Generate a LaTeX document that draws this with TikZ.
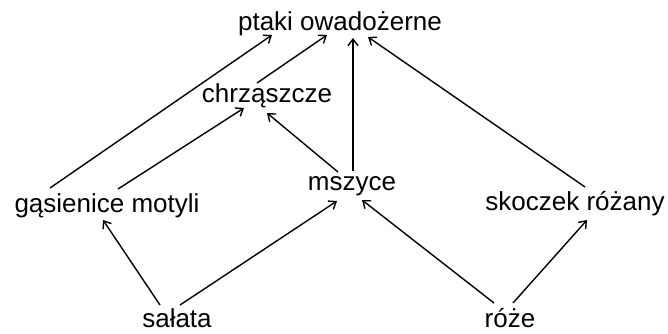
\documentclass[tikz,border=0pt]{standalone}
\usepackage{fontspec}
\setmainfont{Liberation Sans}
\usetikzlibrary{arrows.meta}
\begin{document}
\begin{tikzpicture}[x=1pt,y=-1pt,
  lbl/.style={anchor=base,inner sep=0pt,font=\fontsize{26}{30}\selectfont},
  arr/.style={draw,line width=1.4pt,-{Straight Barb[length=6.5pt,width=10pt,line width=1.4pt]}}]
\useasboundingbox (0,0) rectangle (668,333);
\node[lbl] (P) at (340,30) {ptaki owadożerne};
\node[lbl] (C) at (267,102) {chrząszcze};
\node[lbl] (M) at (352,190) {mszyce};
\node[lbl] (G) at (107,212) {gąsienice motyli};
\node[lbl] (S) at (575,210) {skoczek różany};
\node[lbl] (Sa) at (177,327) {sałata};
\node[lbl] (R) at (510,327) {róże};
\draw[arr] ([shift={(-57,-24)}]G.base) -- ([shift={(-68,5)}]P.base);
\draw[arr] ([shift={(11,-23)}]G.base) -- ([shift={(-23,6)}]C.base);
\draw[arr] ([shift={(-10,-19)}]C.base) -- ([shift={(-13,5)}]P.base);
\draw[arr] ([shift={(1,-19)}]M.base) -- ([shift={(13,8)}]P.base);
\draw[arr] ([shift={(-14,-18)}]M.base) -- ([shift={(0,11)}]C.base);
\draw[arr] ([shift={(10,-23)}]S.base) -- ([shift={(28,7)}]P.base);
\draw[arr] ([shift={(-17,-22)}]Sa.base) -- ([shift={(-4,8)}]G.base);
\draw[arr] ([shift={(3,-22)}]Sa.base) -- ([shift={(-15,11)}]M.base);
\draw[arr] ([shift={(-16,-24)}]R.base) -- ([shift={(10,10)}]M.base);
\draw[arr] ([shift={(3,-24)}]R.base) -- ([shift={(12,10)}]S.base);
\end{tikzpicture}
\end{document}
